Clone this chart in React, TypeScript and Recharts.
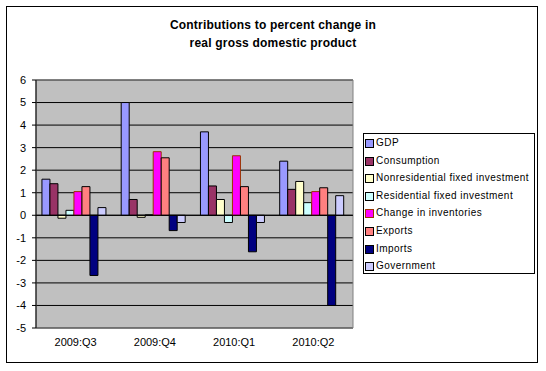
import { BarChart, Bar, XAxis, YAxis, CartesianGrid, ReferenceLine, ReferenceArea } from 'recharts';

const quarters = ['2009:Q3', '2009:Q4', '2010:Q1', '2010:Q2'];

const gdp = [1.6, 5.0, 3.7, 2.4];
const consumption = [1.4, 0.7, 1.3, 1.15];
const nonresidential = [-0.13, -0.09, 0.7, 1.5];
const residential = [0.22, 0.02, -0.32, 0.56];
const inventories = [1.05, 2.82, 2.64, 1.05];
const exportsContrib = [1.27, 2.55, 1.27, 1.22];
const imports = [-2.67, -0.68, -1.62, -4.0];
const government = [0.34, -0.32, -0.32, 0.87];

const yTicks = [-5, -4, -3, -2, -1, 0, 1, 2, 3, 4, 5, 6];

const series = [
  { key: 'gdp', name: 'GDP', values: gdp, color: '#9999FF', stroke: '#000000' },
  { key: 'consumption', name: 'Consumption', values: consumption, color: '#993366', stroke: '#000000' },
  { key: 'nonres', name: 'Nonresidential fixed investment', values: nonresidential, color: '#FFFFCC', stroke: '#000000' },
  { key: 'res', name: 'Residential fixed investment', values: residential, color: '#CCFFFF', stroke: '#000000' },
  { key: 'inv', name: 'Change in inventories', values: inventories, color: '#FF00FF', stroke: '#993300' },
  { key: 'exports', name: 'Exports', values: exportsContrib, color: '#FF8080', stroke: '#000000' },
  { key: 'imports', name: 'Imports', values: imports, color: '#000080', stroke: '#000000' },
  { key: 'gov', name: 'Government', values: government, color: '#CCCCFF', stroke: '#000000' },
];

const data = quarters.map((q, i) => {
  const row: { [key: string]: string | number } = { quarter: q };
  series.forEach((s) => {
    row[s.key] = s.values[i];
  });
  return row;
});

const font = '"Liberation Sans", Arial, sans-serif';

export default function App() {
  return (
    <div style={{ position: 'absolute', left: 0, top: 0, width: 546, height: 371, background: '#fff', fontFamily: font }}>
      {/* outer chart frame */}
      <div style={{ position: 'absolute', left: 6, top: 6, width: 532, height: 357, border: '1px solid #000', boxSizing: 'border-box' }} />

      <div style={{ position: 'absolute', left: 0, top: 16, width: 546, textAlign: 'center', fontSize: 12, fontWeight: 'bold', lineHeight: '18px', color: '#000', letterSpacing: 0.2 }}>
        Contributions to percent change in
        <br />
        real gross domestic product
      </div>

      <div style={{ position: 'absolute', left: 0, top: 0 }}>
        <BarChart
          width={546}
          height={371}
          data={data}
          margin={{ top: 80, right: 193, bottom: 13, left: 6 }}
          barGap={0}
          barCategoryGap="7.5%"
        >
          <CartesianGrid vertical={false} stroke="#000" fill="#C0C0C0" fillOpacity={1} />
          <ReferenceArea y1={-5} y2={6} fill="none" stroke="#808080" strokeWidth={1} />
          <XAxis
            dataKey="quarter"
            axisLine={false}
            tickLine={false}
            height={30}
            tickMargin={4}
            tick={{ fontSize: 11, fill: '#000', fontFamily: font }}
          />
          <YAxis
            type="number"
            domain={[-5, 6]}
            ticks={yTicks}
            interval={0}
            width={30}
            tickSize={4}
            tickMargin={6}
            axisLine={{ stroke: '#000' }}
            tickLine={{ stroke: '#000' }}
            tick={{ fontSize: 11, fill: '#000', fontFamily: font }}
          />
          <ReferenceLine y={0} stroke="#000" />
          {series.map((s) => (
            <Bar
              key={s.key}
              dataKey={s.key}
              name={s.name}
              fill={s.color}
              stroke={s.stroke}
              strokeWidth={1}
              isAnimationActive={false}
            />
          ))}
        </BarChart>
      </div>

      {/* legend */}
      <div style={{ position: 'absolute', left: 363, top: 133, width: 172, height: 141, border: '1px solid #000', boxSizing: 'border-box', background: '#fff' }}>
        {series.map((s) => (
          <div key={s.key} style={{ position: 'relative', height: 17.6, lineHeight: '17.6px', fontSize: 10, color: '#000', whiteSpace: 'nowrap', paddingLeft: 12, letterSpacing: 0.45 }}>
            <span style={{ position: 'absolute', left: 1, top: 5, width: 7, height: 7, background: s.color, border: `1px solid ${s.stroke}` }} />
            {s.name}
          </div>
        ))}
      </div>
    </div>
  );
}
